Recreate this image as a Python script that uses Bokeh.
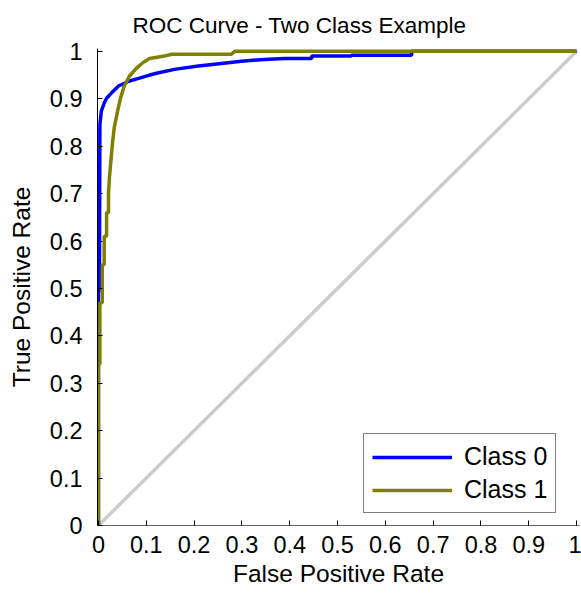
from bokeh.plotting import figure
from bokeh.models import Range1d, FixedTicker, Legend, LegendItem
from bokeh.embed import file_html
from bokeh.resources import INLINE

# ---- data ----
fpr_class0 = [0.0, 0.0, 0.002, 0.003, 0.006, 0.012, 0.017, 0.027, 0.042, 0.063, 0.084,
              0.107, 0.126, 0.159, 0.209, 0.243, 0.299, 0.347, 0.389, 0.446, 0.446,
              0.529, 0.529, 0.655, 0.655, 1.0]
tpr_class0 = [0.0, 0.49, 0.50, 0.845, 0.874, 0.891, 0.901, 0.912, 0.927, 0.937, 0.943,
              0.950, 0.955, 0.962, 0.969, 0.973, 0.979, 0.983, 0.985, 0.985, 0.990,
              0.990, 0.992, 0.992, 1.0, 1.0]

fpr_class1 = [0.0, 0.0, 0.003, 0.003, 0.008, 0.008, 0.012, 0.012, 0.017, 0.017, 0.021,
              0.021, 0.023, 0.029, 0.033, 0.040, 0.046, 0.054, 0.065, 0.079, 0.094,
              0.107, 0.138, 0.153, 0.278, 0.285, 1.0]
tpr_class1 = [0.0, 0.34, 0.34, 0.47, 0.47, 0.55, 0.55, 0.61, 0.61, 0.66, 0.66,
              0.70, 0.734, 0.803, 0.839, 0.874, 0.901, 0.927, 0.948, 0.964, 0.977,
              0.985, 0.990, 0.994, 0.994, 1.0, 1.0]

chance_x = [0.0, 1.0]
chance_y = [0.0, 1.0]

tick_values = [0.0, 0.1, 0.2, 0.3, 0.4, 0.5, 0.6, 0.7, 0.8, 0.9, 1.0]
tick_labels = ["0", "0.1", "0.2", "0.3", "0.4", "0.5", "0.6", "0.7", "0.8", "0.9", "1"]

series_names = ["Class 0", "Class 1"]

FONT = "Liberation Sans"

p = figure(width=581, height=598, output_backend="svg", toolbar_location=None,
           x_range=Range1d(-0.002, 1.006), y_range=Range1d(0, 1.006),
           title="ROC Curve - Two Class Example",
           min_border_left=97, min_border_right=2, min_border_top=45, min_border_bottom=73)

p.background_fill_color = "white"
p.border_fill_color = "white"
p.outline_line_color = None
p.xgrid.visible = False
p.ygrid.visible = False

p.title.align = "left"
p.title.offset = 35
p.title.standoff = 21
p.title.text_font = FONT
p.title.text_font_size = "22.5px"
p.title.text_font_style = "normal"
p.title.text_color = "black"

# diagonal
p.line(chance_x, chance_y, line_color="#cccccc", line_width=3.5)
r0 = p.line(fpr_class0, tpr_class0, line_color="#0000ff", line_width=3.5)
r1 = p.line(fpr_class1, tpr_class1, line_color="#808000", line_width=3.5)

labels = dict(zip(tick_values, tick_labels))
for ax in (p.xaxis[0], p.yaxis[0]):
    ax.ticker = FixedTicker(ticks=tick_values)
    ax.major_label_overrides = labels
    ax.minor_tick_line_color = None
    ax.major_tick_in = 5
    ax.major_tick_out = 0
    ax.major_tick_line_color = "black"
    ax.major_label_text_font = FONT
    ax.major_label_text_font_size = "23.5px"
    ax.major_label_text_color = "black"
    ax.axis_label_text_font = FONT
    ax.axis_label_text_font_size = "24.5px"
    ax.axis_label_text_font_style = "normal"
    ax.axis_label_text_color = "black"

p.xaxis[0].axis_label = "False Positive Rate"
p.yaxis[0].axis_label = "True Positive Rate"
p.xaxis[0].axis_line_color = "#666666"
p.yaxis[0].axis_line_color = "black"
p.xaxis[0].major_label_standoff = 10
p.yaxis[0].major_label_standoff = 15
p.xaxis[0].axis_label_standoff = 4
p.yaxis[0].axis_label_standoff = 12

legend = Legend(items=[LegendItem(label=series_names[0], renderers=[r0]),
                       LegendItem(label=series_names[1], renderers=[r1])],
                location=(266, 12))
legend.border_line_color = "black"
legend.border_line_width = 1
legend.background_fill_color = "white"
legend.background_fill_alpha = 1
legend.label_text_font = FONT
legend.label_text_font_size = "25px"
legend.label_text_color = "black"
legend.glyph_width = 80
legend.glyph_height = 26
legend.label_height = 26
legend.label_standoff = 12
legend.padding = 8
legend.spacing = 4
legend.margin = 0
p.add_layout(legend, "center")

open("out.html", "w").write(file_html(p, INLINE))
